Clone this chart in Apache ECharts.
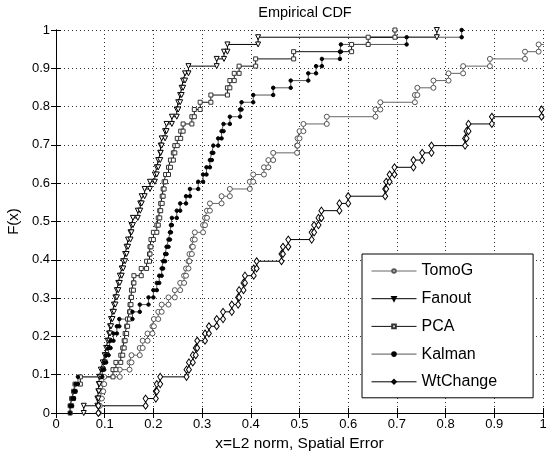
<!DOCTYPE html>
<html>
<head>
<meta charset="utf-8">
<script src="https://cdn.jsdelivr.net/npm/echarts@6/dist/echarts.min.js"></script>
<style>
  html, body { margin: 0; padding: 0; background: #fff; }
  #chart { width: 553px; height: 453px; }
</style>
</head>
<body>
<div id="chart"></div>
<script>
// sorted sample values (53 per method); values past 1 are off the axes
var tomoG = [0.088,0.090,0.094,0.097,0.099,0.131,0.151,0.155,0.172,0.178,0.188,0.198,0.201,0.210,0.217,0.231,0.244,0.255,0.263,0.267,0.272,0.274,0.279,0.281,0.285,0.302,0.306,0.310,0.316,0.340,0.357,0.398,0.405,0.427,0.436,0.446,0.495,0.496,0.500,0.508,0.556,0.656,0.666,0.737,0.742,0.775,0.806,0.836,0.891,0.963,0.991,1.05,1.12];
var fanout = [0.057,0.085,0.087,0.088,0.089,0.092,0.096,0.100,0.103,0.106,0.109,0.111,0.113,0.116,0.119,0.122,0.125,0.128,0.131,0.135,0.138,0.142,0.145,0.148,0.153,0.155,0.158,0.168,0.173,0.176,0.182,0.193,0.203,0.207,0.210,0.214,0.215,0.217,0.224,0.227,0.238,0.248,0.251,0.255,0.258,0.261,0.265,0.272,0.330,0.345,0.352,0.415,0.782];
var pca = [0.029,0.032,0.036,0.039,0.050,0.117,0.123,0.133,0.137,0.140,0.142,0.145,0.147,0.151,0.152,0.154,0.155,0.159,0.160,0.175,0.186,0.192,0.193,0.195,0.200,0.207,0.210,0.213,0.215,0.218,0.220,0.222,0.225,0.231,0.235,0.241,0.244,0.249,0.256,0.261,0.279,0.284,0.296,0.318,0.352,0.357,0.366,0.376,0.410,0.488,0.607,0.641,0.696];
var kalman = [0.029,0.033,0.037,0.040,0.045,0.095,0.099,0.103,0.108,0.112,0.118,0.125,0.130,0.157,0.172,0.190,0.200,0.207,0.212,0.217,0.220,0.224,0.227,0.231,0.234,0.236,0.238,0.248,0.255,0.267,0.275,0.292,0.302,0.309,0.316,0.320,0.323,0.333,0.340,0.344,0.357,0.378,0.381,0.405,0.446,0.482,0.518,0.534,0.546,0.583,0.585,0.720,0.833];
var wtChange = [0.087,0.184,0.205,0.207,0.214,0.268,0.273,0.281,0.287,0.290,0.306,0.314,0.330,0.343,0.361,0.374,0.376,0.385,0.388,0.406,0.412,0.463,0.466,0.477,0.525,0.530,0.539,0.545,0.582,0.600,0.676,0.678,0.685,0.695,0.734,0.752,0.771,0.840,0.843,0.847,0.895,0.997,1.03,1.08,1.12,1.18,1.22,1.30,1.38,1.45,1.60,1.80,2.10];

var seriesNames = ['TomoG', 'Fanout', 'PCA', 'Kalman', 'WtChange'];
var tickLabels = ['0', '0.1', '0.2', '0.3', '0.4', '0.5', '0.6', '0.7', '0.8', '0.9', '1'];

var font = "'Liberation Sans', Arial, Helvetica, sans-serif";

// staircase like cdfplot: (x_i, (i-1)/n) then (x_i, i/n)
function cdf_points(xs) {
    var n = xs.length;
    var pts = [];
    for (var i = 0; i < n; i++) {
        pts.push([xs[i], i / n]);
        pts.push([xs[i], (i + 1) / n]);
    }
    return pts;
}

function make_series(name, xs, line_color, symbol, size, fill, border, rotate) {
    return {
        name: name,
        type: 'line',
        data: cdf_points(xs),
        showSymbol: true,
        symbol: symbol,
        symbolSize: size,
        symbolRotate: rotate || 0,
        clip: true,
        animation: false,
        lineStyle: { color: line_color, width: 1 },
        itemStyle: { color: fill, borderColor: border, borderWidth: 1 },
        emphasis: { disabled: true },
    };
}

function label_fmt(v) {
    return tickLabels[Math.round(v * 10)];
}

var axis_common = {
    type: 'value',
    min: 0,
    max: 1,
    interval: 0.1,
    axisLine: { show: true, lineStyle: { color: '#000', width: 1 } },
    axisTick: { show: true, inside: true, length: 5, lineStyle: { color: '#000' } },
};

var option = {
    backgroundColor: '#fff',
    animation: false,
    title: {
        text: 'Empirical CDF',
        left: 300,
        top: 0,
        textAlign: 'center',
        textStyle: { fontFamily: font, fontSize: 14.5, fontWeight: 'normal', color: '#000' },
    },
    grid: { left: 56, right: 10, top: 30, bottom: 40, outerBoundsMode: 'none', containLabel: false },
    xAxis: [
        Object.assign({}, axis_common, {
            position: 'bottom',
            name: 'x=L2 norm, Spatial Error',
            nameLocation: 'middle',
            nameGap: 16,
            nameTextStyle: { fontFamily: font, fontSize: 15.5, color: '#000', verticalAlign: 'top' },
            axisLabel: { color: '#000', fontFamily: font, fontSize: 13, margin: 5, formatter: label_fmt },
            splitLine: { show: true, lineStyle: { color: '#333', width: 1, type: [1, 3] } },
        }),
        Object.assign({}, axis_common, {
            position: 'top',
            axisLabel: { show: false },
            splitLine: { show: false },
        }),
    ],
    yAxis: [
        Object.assign({}, axis_common, {
            position: 'left',
            name: 'F(x)',
            nameLocation: 'middle',
            nameGap: 26,
            nameRotate: 90,
            nameTextStyle: { fontFamily: font, fontSize: 15, color: '#000' },
            axisLabel: { color: '#000', fontFamily: font, fontSize: 13, margin: 6, formatter: label_fmt },
            splitLine: { show: true, lineStyle: { color: '#333', width: 1, type: [1, 3] } },
        }),
        Object.assign({}, axis_common, {
            position: 'right',
            axisLabel: { show: false },
            splitLine: { show: false },
        }),
    ],
    legend: {
        orient: 'vertical',
        left: 362,
        top: 254,
        padding: [9, 36, 8, 9],
        itemWidth: 45,
        itemHeight: 4.5,
        itemGap: 11.7,
        backgroundColor: '#fff',
        borderColor: '#000',
        borderWidth: 1,
        borderRadius: 0,
        lineStyle: { width: 1 },
        textStyle: { fontFamily: font, fontSize: 16, color: '#000' },
        data: seriesNames,
    },
    series: [
        make_series(seriesNames[0], tomoG, '#666', 'circle', 5, '#fff', '#555'),
        make_series(seriesNames[1], fanout, '#000', 'triangle', 5, '#fff', '#000', 180),
        make_series(seriesNames[2], pca, '#111', 'rect', 4, '#fff', '#333'),
        make_series(seriesNames[3], kalman, '#555', 'circle', 3.5, '#000', '#000'),
        make_series(seriesNames[4], wtChange, '#000', 'diamond', [5, 7], '#fff', '#000'),
    ],
};

var myChart = echarts.init(document.getElementById('chart'), null, { renderer: 'canvas' });
myChart.setOption(option);
</script>
</body>
</html>
